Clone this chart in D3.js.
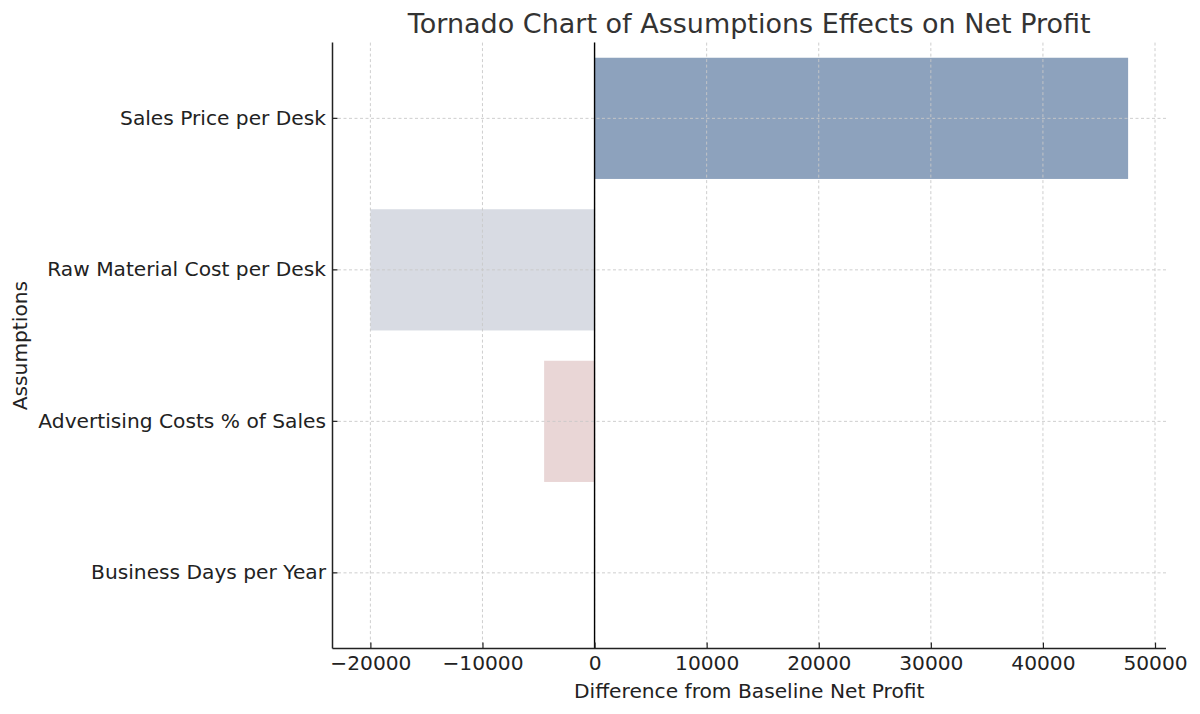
<!DOCTYPE html>
<html><head><meta charset="utf-8">
<script src="https://cdn.jsdelivr.net/npm/d3@7"></script>
<style>body{margin:0;background:#fff}svg{display:block}text{font-family:"DejaVu Sans",sans-serif}</style>
</head><body><svg id="c" width="1200" height="714"></svg>
<script>
const categories = ["Sales Price per Desk","Raw Material Cost per Desk","Advertising Costs % of Sales","Business Days per Year"];
const values = [47600, -20000, -4500, 0];
const colors = ["#8da2bd","#d8dbe3","#e9d6d6","#f0d0d0"];
const xTicks = [-20000,-10000,0,10000,20000,30000,40000,50000];
const title = "Tornado Chart of Assumptions Effects on Net Profit";
const xLabel = "Difference from Baseline Net Profit";
const yLabel = "Assumptions";

const svg = d3.select("#c");
const L = 332.5, R = 1166, T = 42.6, B = 648.6;
const mn = Math.min(0, d3.min(values)), mx = Math.max(0, d3.max(values));
const pad = (mx - mn) * 0.05;
const x = d3.scaleLinear().domain([mn - pad, mx + pad]).range([L, R]);
const y = d3.scaleBand().domain(categories).range([T, B]).paddingInner(0.2).paddingOuter(0.1);

// bars
svg.append("g").selectAll("rect").data(categories).join("rect")
  .attr("x", (d,i) => x(Math.min(0, values[i])))
  .attr("width", (d,i) => Math.abs(x(values[i]) - x(0)))
  .attr("y", d => y(d)).attr("height", y.bandwidth())
  .attr("fill", (d,i) => colors[i]);

// grid
const g = svg.append("g").attr("stroke", "#c8c8c8").attr("stroke-width", 0.9).attr("stroke-dasharray", "3,2.5");
g.selectAll(".vx").data(xTicks).join("line")
  .attr("x1", d => x(d)).attr("x2", d => x(d)).attr("y1", T).attr("y2", B);
g.selectAll(".hy").data(categories).join("line")
  .attr("y1", d => y(d) + y.bandwidth()/2).attr("y2", d => y(d) + y.bandwidth()/2).attr("x1", L).attr("x2", R);

// zero line
svg.append("line").attr("x1", x(0)).attr("x2", x(0)).attr("y1", T).attr("y2", B)
  .attr("stroke", "#000").attr("stroke-width", 1.4);

// x axis
const xa = svg.append("g").attr("transform", `translate(0,${B})`)
  .call(d3.axisBottom(x).tickValues(xTicks).tickSize(-6).tickPadding(7.5).tickFormat(d => d3.format("d")(d).replace("-", "\u2212")));
xa.select(".domain").remove();
xa.selectAll(".tick line").attr("stroke", "#222").attr("stroke-width", 1.2);
xa.selectAll("text").attr("font-size", "20.2px").attr("fill", "#222").attr("font-family", "DejaVu Sans");
svg.append("line").attr("x1", L).attr("x2", R).attr("y1", B).attr("y2", B).attr("stroke", "#222").attr("stroke-width", 1.5);

// y axis
const ya = svg.append("g").attr("transform", `translate(${L},0)`)
  .call(d3.axisLeft(y).tickSize(-5).tickPadding(6.5));
ya.select(".domain").remove();
ya.selectAll(".tick line").attr("stroke", "#222").attr("stroke-width", 1.2);
ya.selectAll("text").attr("font-size", "20.2px").attr("fill", "#222").attr("font-family", "DejaVu Sans");
svg.append("line").attr("x1", L).attr("x2", L).attr("y1", T).attr("y2", B).attr("stroke", "#222").attr("stroke-width", 1.5);

// labels
svg.append("text").attr("x", (L+R)/2).attr("y", 33).attr("text-anchor", "middle")
  .attr("font-size", "27px").attr("fill", "#333").text(title);
svg.append("text").attr("x", (L+R)/2).attr("y", 698).attr("text-anchor", "middle")
  .attr("font-size", "20.2px").attr("fill", "#222").text(xLabel);
svg.append("text").attr("transform", `translate(27,${(T+B)/2}) rotate(-90)`).attr("text-anchor", "middle")
  .attr("font-size", "20.2px").attr("fill", "#222").text(yLabel);
</script></body></html>
